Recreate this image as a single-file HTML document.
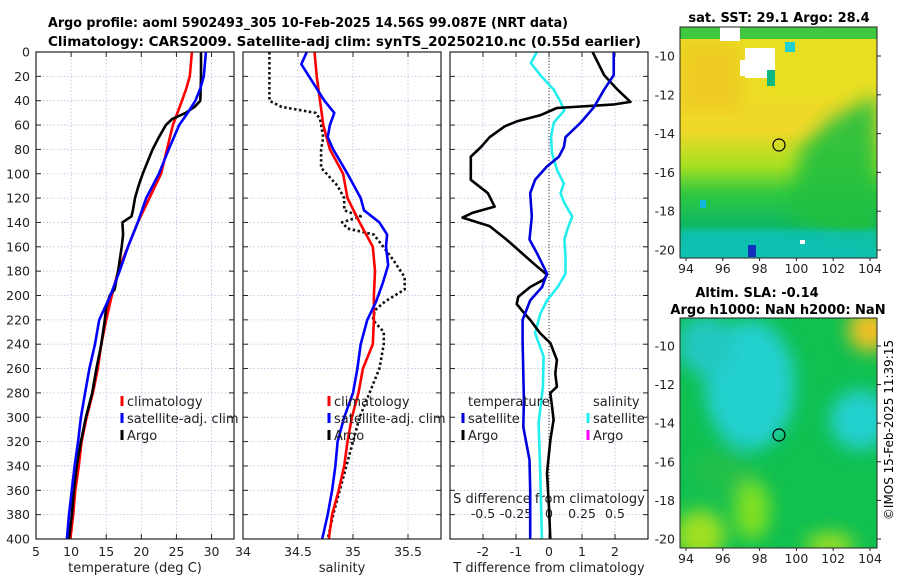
<!DOCTYPE html>
<html><head><meta charset="utf-8"><style>
html,body{margin:0;padding:0;background:#fff;}
svg{display:block;font-family:"DejaVu Sans","Liberation Sans",sans-serif;}
</style></head><body>
<svg id="c" width="900" height="580" viewBox="0 0 900 580">
<defs>
<clipPath id="clipTop"><rect x="680" y="27" width="197" height="231"/></clipPath>
<clipPath id="clipBot"><rect x="680" y="318" width="197" height="230"/></clipPath>
<filter id="blur8"><feGaussianBlur stdDeviation="9"/></filter>
<filter id="blur3"><feGaussianBlur stdDeviation="3"/></filter>
<linearGradient id="sstGrad" x1="0" y1="0" x2="0" y2="1">
<stop offset="0" stop-color="#e8e020"/><stop offset="0.45" stop-color="#f0d828"/><stop offset="0.6" stop-color="#a8e020"/><stop offset="0.72" stop-color="#30c840"/><stop offset="0.85" stop-color="#10b860"/><stop offset="1" stop-color="#10c8b0"/>
</linearGradient>
</defs>
<g id="titles">
<text x="48" y="27" font-size="13" font-weight="bold" textLength="520" lengthAdjust="spacingAndGlyphs">Argo profile: aoml 5902493_305 10-Feb-2025 14.56S 99.087E (NRT data)</text>
<text x="48" y="46" font-size="13" font-weight="bold" textLength="593" lengthAdjust="spacingAndGlyphs">Climatology: CARS2009. Satellite-adj clim: synTS_20250210.nc (0.55d earlier)</text>
</g>
<g id="plots"></g>
<g id="maps">
<g clip-path="url(#clipTop)">
<rect x="680" y="27" width="197" height="231" fill="url(#sstGrad)"/>
<rect x="680" y="40" width="60" height="70" fill="#f0c020" opacity="0.6" filter="url(#blur8)"/>
<rect x="760" y="60" width="117" height="40" fill="#e8e020" opacity="0.7" filter="url(#blur8)"/>
<polygon points="800,150 830,120 877,95 877,250 790,220" fill="#20c040" opacity="0.9" filter="url(#blur8)"/>
<rect x="680" y="27" width="197" height="12" fill="#40c840"/>
<rect x="720" y="27" width="20" height="14" fill="#fff"/>
<rect x="745" y="48" width="30" height="30" fill="#fff"/>
<rect x="740" y="60" width="35" height="16" fill="#fff"/>
<rect x="767" y="70" width="8" height="16" fill="#10b880"/>
<rect x="785" y="42" width="10" height="10" fill="#20d0d0"/>
<rect x="680" y="230" width="197" height="28" fill="#10c0b8" opacity="0.8" filter="url(#blur3)"/>
<rect x="748" y="245" width="8" height="12" fill="#1030c0"/>
<rect x="700" y="200" width="6" height="8" fill="#10b8e0"/>
<rect x="800" y="240" width="5" height="4" fill="#fff"/>
<circle cx="779" cy="145" r="6" fill="none" stroke="#000" stroke-width="1.2"/>
</g>
<rect x="680" y="27" width="197" height="231" fill="none" stroke="#222" stroke-width="1"/>
<g clip-path="url(#clipBot)">
<rect x="680" y="318" width="197" height="230" fill="#10c050"/>
<g filter="url(#blur8)">
<ellipse cx="750" cy="385" rx="45" ry="65" fill="#20d0d0"/>
<ellipse cx="705" cy="345" rx="28" ry="30" fill="#20c8c0"/>
<ellipse cx="860" cy="420" rx="30" ry="30" fill="#20d0d0"/>
<ellipse cx="870" cy="330" rx="22" ry="22" fill="#f0c020"/>
<ellipse cx="752" cy="510" rx="18" ry="30" fill="#80e020"/>
<ellipse cx="700" cy="535" rx="25" ry="25" fill="#a0e020"/>
<ellipse cx="830" cy="545" rx="25" ry="12" fill="#a0e020"/>
<ellipse cx="720" cy="470" rx="30" ry="20" fill="#20c048"/>
</g>
<circle cx="779" cy="435" r="6" fill="none" stroke="#000" stroke-width="1.2"/>
</g>
<rect x="680" y="318" width="197" height="230" fill="none" stroke="#222" stroke-width="1"/>
<text x="779" y="22" font-size="13" font-weight="bold" text-anchor="middle">sat. SST: 29.1 Argo: 28.4</text>
<text x="757" y="297" font-size="13" font-weight="bold" text-anchor="middle">Altim. SLA: -0.14</text>
<text x="778" y="314" font-size="13" font-weight="bold" text-anchor="middle">Argo h1000: NaN h2000: NaN</text>
<text transform="translate(893,430) rotate(-90)" font-size="12" text-anchor="middle">©IMOS 15-Feb-2025 11:39:15</text>
</g>
</svg>
<script>
// ---- data ----
const tArgoDepth=[0,20,40,45,50,55,60,70,80,90,100,110,120,130,135,140,150,160,180,195,200,210,220,240,260,280,300,320,340,360,380,400];
const tArgoVal=[28.5,28.5,28.4,27.6,26.3,24.4,23.5,22.5,21.6,20.9,20.2,19.6,19.1,18.8,18.6,17.3,17.4,17.2,16.7,16.2,15.5,15.0,14.8,14.3,13.6,13.0,12.1,11.4,10.8,10.4,10.1,9.7];
const tClimDepth=[0,20,30,40,60,100,140,180,200,220,240,260,280,300,320,340,360,380,400];
const tClimVal=[27.2,26.9,26.4,25.8,24.5,22.8,19.5,16.7,15.8,15.0,14.3,13.8,13.1,12.2,11.5,11.1,10.6,10.3,9.9];
const tSatDepth=[0,20,30,40,50,60,80,100,120,140,160,180,200,220,240,260,280,300,320,340,360,380,400];
const tSatVal=[29.2,28.9,28.4,27.7,26.6,25.4,23.9,22.5,20.7,19.5,18.1,16.9,15.6,14.0,13.4,12.6,12.0,11.4,11.0,10.5,10.1,9.7,9.4];
const sClimDepth=[0,20,40,60,80,100,120,140,160,180,200,220,240,260,280,300,320,340,360,380,400];
const sClimVal=[34.65,34.67,34.70,34.73,34.79,34.91,34.95,35.06,35.18,35.20,35.19,35.19,35.18,35.09,35.05,34.99,34.95,34.92,34.87,34.81,34.78];
const sSatDepth=[0,10,20,40,50,60,70,80,100,120,130,140,150,160,175,190,205,220,240,260,280,300,320,340,360,380,400];
const sSatVal=[34.58,34.53,34.60,34.74,34.83,34.79,34.77,34.82,34.95,35.07,35.10,35.24,35.31,35.30,35.32,35.27,35.21,35.13,35.07,35.04,35.00,34.92,34.86,34.84,34.81,34.77,34.72];
const sArgoDepth=[0,40,45,50,55,70,80,95,110,120,130,135,140,145,150,170,185,195,205,212,220,230,240,260,280,300,320,340,360,380,400];
const sArgoVal=[34.24,34.24,34.35,34.66,34.70,34.73,34.71,34.71,34.86,34.92,34.92,35.07,34.90,34.95,35.19,35.36,35.47,35.47,35.29,35.20,35.18,35.28,35.28,35.24,35.15,35.06,35.00,34.94,34.88,34.82,34.77];
const dTArgoDepth=[0,19,31,41,43,46,52,57,61,70,78,86,97,105,116,127,132,136,143,154,165,176,183,187,193,201,207,212,220,231,239,253,264,275,280,291,302,319,346,374,400];
const dTArgoVal=[1.32,1.67,2.08,2.47,1.98,0.24,-0.27,-0.98,-1.34,-1.8,-2.06,-2.37,-2.37,-2.37,-1.85,-1.65,-2.31,-2.62,-1.8,-1.29,-0.83,-0.37,-0.06,-0.16,-0.57,-0.93,-0.98,-0.83,-0.57,-0.27,0.04,0.24,0.19,0.24,0.04,0.09,0.14,0.04,-0.06,0,0.04];
const dTSatDepth=[0,19,31,45,58,70,78,86,94,105,116,135,154,165,182,193,204,220,237,264,286,308,335,360,400];
const dTSatVal=[1.96,1.96,1.67,1.37,0.96,0.5,0.45,0.3,-0.06,-0.42,-0.57,-0.52,-0.59,-0.37,-0.06,-0.21,-0.57,-0.8,-0.8,-0.78,-0.76,-0.78,-0.59,-0.57,-0.57];
const dSSatDepth=[0,9,19,31,41,48,58,70,83,97,108,116,124,135,146,154,168,182,193,204,215,231,250,275,305,346,400];
const dSSatVal=[-0.092,-0.138,-0.066,0.036,0.087,0.117,0.036,0.015,0.023,0.061,0.112,0.087,0.117,0.176,0.138,0.117,0.125,0.125,0.066,-0.015,-0.066,-0.105,-0.041,-0.046,-0.079,-0.066,-0.054];
const depthTicks=[0,20,40,60,80,100,120,140,160,180,200,220,240,260,280,300,320,340,360,380,400];
const tTicks=[5,10,15,20,25,30];
const sTicks=[34,34.5,35,35.5];
const dTTicks=[-2,-1,0,1,2];
const dSTicks=[-0.5,-0.25,0,0.25,0.5];
const lonTicks=[94,96,98,100,102,104];
const latTicks=[-10,-12,-14,-16,-18,-20];

const NS='http://www.w3.org/2000/svg';
const root=document.getElementById('plots');
function el(tag,attrs,parent,txt){const e=document.createElementNS(NS,tag);for(const k in attrs)e.setAttribute(k,attrs[k]);if(txt!==undefined)e.textContent=txt;(parent||root).appendChild(e);return e;}
const Y0=52,Y1=539;
function yScale(d){return Y0+(d/400)*(Y1-Y0);}
function mk(x0,x1,lo,hi){return v=>x0+(v-lo)/(hi-lo)*(x1-x0);}
const panels=[
 {x0:36,x1:234,lo:5,hi:33.2,ticks:tTicks,label:'temperature (deg C)',name:'temperature-panel'},
 {x0:243,x1:441,lo:34,hi:35.8,ticks:sTicks,label:'salinity',name:'salinity-panel'},
 {x0:450,x1:648,lo:-3,hi:3,ticks:dTTicks,label:'T difference from climatology',name:'difference-panel'}
];
panels.forEach((p,i)=>{
 p.xs=mk(p.x0,p.x1,p.lo,p.hi);
 const g=el('g',{});
 
 
 p.g=g;
 depthTicks.forEach(d=>{el('line',{x1:p.x0,x2:p.x1,y1:yScale(d),y2:yScale(d),stroke:'#b8c0e0','stroke-width':0.8,'stroke-dasharray':'1.5,2'},g);
  el('line',{x1:p.x0,x2:p.x0+5,y1:yScale(d),y2:yScale(d),stroke:'#222'},g);
  el('line',{x1:p.x1,x2:p.x1-5,y1:yScale(d),y2:yScale(d),stroke:'#222'},g);});
 p.ticks.forEach(t=>{const x=p.xs(t);
  el('line',{x1:x,x2:x,y1:Y0,y2:Y1,stroke:'#b8c0e0','stroke-width':0.8,'stroke-dasharray':'1.5,2'},g);
  el('line',{x1:x,x2:x,y1:Y1,y2:Y1-5,stroke:'#222'},g);
  el('line',{x1:x,x2:x,y1:Y0,y2:Y0+5,stroke:'#222'},g);
  const t1=el('text',{x:x,y:556,'font-size':12.5,'text-anchor':'middle',fill:'#222'},g,String(t));
  
  });
 const xl=el('text',{x:(p.x0+p.x1)/2,y:572,'font-size':13,'text-anchor':'middle',fill:'#222'},g,p.label);
 
 
});
const pT=panels[0],pS=panels[1],pD=panels[2];
depthTicks.forEach(d=>{const t=el('text',{x:30,y:yScale(d)+4.5,'font-size':12.5,'text-anchor':'end',fill:'#222'},pT.g,String(d));
 
 });
const dsScale=mk(450,648,-0.75,0.75);
dSTicks.forEach(s=>{const x=dsScale(s);
 const t=el('text',{x:x,y:518,'font-size':12.5,'text-anchor':'middle',fill:'#222'},pD.g,String(s));
 
 
 el('line',{x1:x,x2:x,y1:Y0,y2:Y0+5,stroke:'#222'},pD.g);});
const sdt=el('text',{x:549,y:503,'font-size':13,'text-anchor':'middle',fill:'#222'},pD.g,'S difference from climatology');


el('line',{x1:pD.xs(0),x2:pD.xs(0),y1:Y0,y2:Y1,stroke:'#333','stroke-width':1,'stroke-dasharray':'1,2'},pD.g);

function series(p,scale,depths,vals,color,dash,name){
 let d='';depths.forEach((dp,i)=>{d+=(i?'L':'M')+scale(vals[i]).toFixed(1)+','+yScale(dp).toFixed(1);});
 const a={d:d,fill:'none',stroke:color,'stroke-width':2.6,'stroke-linejoin':'round'};
 if(dash)a['stroke-dasharray']=dash;
 const path=el('path',a,p.g);
 
 
}
series(pT,pT.xs,tClimDepth,tClimVal,'#ff0000',null,'temperature-climatology-line');
series(pT,pT.xs,tArgoDepth,tArgoVal,'#000',null,'temperature-argo-line');
series(pT,pT.xs,tSatDepth,tSatVal,'#0000ff',null,'temperature-satellite-line');
series(pS,pS.xs,sArgoDepth,sArgoVal,'#111','2.5,2.5','salinity-argo-line');
series(pS,pS.xs,sClimDepth,sClimVal,'#ff0000',null,'salinity-climatology-line');
series(pS,pS.xs,sSatDepth,sSatVal,'#0000ff',null,'salinity-satellite-line');
series(pD,dsScale,dSSatDepth,dSSatVal,'#22eeee',null,'salinity-diff-satellite-line');
series(pD,pD.xs,dTArgoDepth,dTArgoVal,'#000',null,'temperature-diff-argo-line');
series(pD,pD.xs,dTSatDepth,dTSatVal,'#0000dd',null,'temperature-diff-satellite-line');

panels.forEach(p=>{el('rect',{x:p.x0,y:Y0,width:p.x1-p.x0,height:Y1-Y0,fill:'none',stroke:'#222','stroke-width':1.2},p.g);});

function legend(p,x,items){
 items.forEach((it,i)=>{const y=401+i*17;
  const g=el('g',{},p.g);
  
  
  if(it[1])el('line',{x1:x,x2:x,y1:y-5,y2:y+5,stroke:it[1],'stroke-width':3},g);
  el('text',{x:x+5,y:y+5,'font-size':13,fill:'#222'},g,it[0]);});
}
legend(pT,122,[['climatology','#ff0000'],['satellite-adj. clim','#0000ff'],['Argo','#000']]);
legend(pS,329,[['climatology','#ff0000'],['satellite-adj. clim','#0000ff'],['Argo','#000']]);
legend(pD,463,[['temperature',null],['satellite','#0000dd'],['Argo','#000']]);
legend(pD,588,[['salinity',null],['satellite','#22eeee'],['Argo','#ff00ff']]);

const mapsG=document.getElementById('maps');
const lonX=mk(686,870,94,104);
[[56,250,258],[346,539,548]].forEach((m,mi)=>{
 const latY=mk(m[0],m[1],-10,-20);
 latTicks.forEach(l=>{const y=latY(l);
  const t=el('text',{x:675,y:y+4.5,'font-size':12.5,'text-anchor':'end',fill:'#222'},mapsG,String(l));
  
  
  el('line',{x1:877,x2:881,y1:y,y2:y,stroke:'#222'},mapsG);});
 lonTicks.forEach(l=>{const x=lonX(l);
  const t=el('text',{x:x,y:m[2]+15,'font-size':12.5,'text-anchor':'middle',fill:'#222'},mapsG,String(l));
  
  
  el('line',{x1:x,x2:x,y1:m[2],y2:m[2]+3,stroke:'#222'},mapsG);});
});
</script>
</body></html>
